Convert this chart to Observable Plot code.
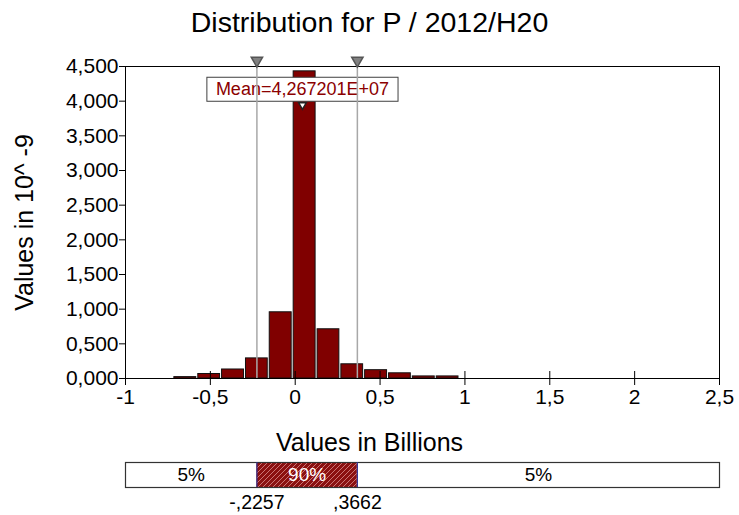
<!DOCTYPE html>
<html><head><meta charset="utf-8">
<script src="https://cdn.jsdelivr.net/npm/d3@7"></script>
<script src="https://cdn.jsdelivr.net/npm/@observablehq/plot@0.6"></script>
<style>
body{margin:0;background:#fff;font-family:"Liberation Sans",Arial,sans-serif;}
#wrap{width:739px;height:515px;overflow:hidden;position:relative;}
.t{width:739px;text-align:center;color:#000;}
svg{display:block;}
</style></head><body><div id="wrap"></div>
<script>
const title = "Distribution for P / 2012/H20";
const yLabel = "Values in 10^ -9";
const xLabel = "Values in Billions";
const binEdges = [-0.718,-0.577,-0.437,-0.296,-0.156,-0.015,0.126,0.266,0.406,0.547,0.687,0.828,0.968];
const binHeights = [0.020,0.065,0.130,0.290,0.955,4.430,0.710,0.205,0.120,0.075,0.030,0.030];
const xTicks = [-1,-0.5,0,0.5,1,1.5,2,2.5];
const yTicks = [0,0.5,1,1.5,2,2.5,3,3.5,4,4.5];
const xDomain = [-1, 2.5];
const yDomain = [0, 4.5];
const meanValue = 0.04267201;
const meanText = "Mean=4,267201E+07";
const p5 = -0.2257, p95 = 0.3662;
const pctLabels = ["5%","90%","5%"];
const pctValueLabels = ["-,2257", ",3662"];

const FONT = "'Liberation Sans', Arial, sans-serif";
const wrap = document.getElementById("wrap");

const tdiv = document.createElement("div");
tdiv.className = "t";
tdiv.style.cssText = "height:45px;line-height:45px;font-size:28.5px;";
tdiv.textContent = title;
wrap.appendChild(tdiv);

const bins = binHeights.map((h, i) => ({x1: binEdges[i], x2: binEdges[i + 1], y: h}));
const comma = s => s.replace(".", ",");
const fmtX = d => comma(String(d));
const fmtY = d => comma(d.toFixed(3));

const plot1 = Plot.plot({
  width: 739, height: 375,
  marginTop: 21, marginBottom: 42, marginLeft: 125, marginRight: 20,
  style: {fontFamily: FONT, fontSize: "21px", color: "#000", background: "white", overflow: "visible"},
  x: {domain: xDomain},
  y: {domain: yDomain},
  marks: [
    Plot.rectY(bins, {x1: "x1", x2: "x2", y: "y", fill: "#800000", stroke: "#111", strokeWidth: 1, insetLeft: 1, insetRight: 1}),
    Plot.frame({stroke: "#000"}),
    Plot.axisY({ticks: yTicks, tickFormat: fmtY, tickSize: 6, tickPadding: 1, label: yLabel, labelAnchor: "center", labelArrow: "none", labelOffset: 110, fontSize: 21}),
    Plot.axisX({ticks: xTicks, tickSize: 14, dy: -7, tickFormat: () => "", label: null}),
    Plot.axisX({ticks: xTicks, tickSize: 0, tickPadding: 11, tickFormat: fmtX, label: null, fontSize: 21}),
    Plot.text([{v: meanValue, label: meanText}], {x: "v", text: "label", frameAnchor: "top", lineAnchor: "middle", dy: 23, fill: "#8b0000", fontSize: 18}),
    Plot.ruleX([p5, p95], {x: d => d, stroke: "#a8a8a8", strokeWidth: 1.5}),
    Plot.dot([p5, p95], {x: d => d, frameAnchor: "top", dy: -6, symbol: "triangle", r: 4.2, rotate: 180, fill: "#808080", stroke: "#555"}),
    Plot.dot([meanValue], {x: d => d, frameAnchor: "top", dy: 38.5, symbol: "triangle", r: 2.8, rotate: 180, fill: "white", stroke: "#222"})
  ]
});
wrap.appendChild(plot1);
plot1.querySelectorAll("g[aria-label='y-axis label'] text").forEach(t => t.setAttribute("font-size", "25"));

// box behind mean label, in the same coordinate system as the text
const mt = Array.from(plot1.querySelectorAll("text")).find(t => t.textContent === meanText);
if (mt) {
  const bb = mt.getBBox();
  const rect = document.createElementNS("http://www.w3.org/2000/svg", "rect");
  rect.setAttribute("x", bb.x - 9);
  rect.setAttribute("y", bb.y - 2);
  rect.setAttribute("width", bb.width + 18);
  rect.setAttribute("height", bb.height + 4);
  rect.setAttribute("fill", "white");
  rect.setAttribute("stroke", "#404040");
  if (mt.getAttribute("transform")) rect.setAttribute("transform", mt.getAttribute("transform"));
  mt.parentNode.insertBefore(rect, mt);
}

const xl = document.createElement("div");
xl.className = "t";
xl.style.cssText = "height:35px;line-height:35px;font-size:25px;padding-top:5px;box-sizing:border-box;";
xl.textContent = xLabel;
wrap.appendChild(xl);

const segs = [
  {a: xDomain[0], b: p5, label: pctLabels[0], c: "#000"},
  {a: p5, b: p95, label: pctLabels[1], c: "#fff"},
  {a: p95, b: xDomain[1], label: pctLabels[2], c: "#000"}
];

const plot2 = Plot.plot({
  width: 739, height: 60,
  marginTop: 7, marginBottom: 28, marginLeft: 125, marginRight: 20,
  style: {fontFamily: FONT, fontSize: "19px", color: "#000", background: "white", overflow: "visible"},
  x: {domain: xDomain, axis: null},
  marks: [
    Plot.rect([segs[1]], {x1: "a", x2: "b", fill: "#8b1010"}),
    Plot.rect([segs[1]], {x1: "a", x2: "b", fill: "url(#hatch)"}),
    Plot.frame({stroke: "#333", strokeWidth: 1.2}),
    Plot.ruleX([p5, p95], {x: d => d, stroke: "#303090", strokeWidth: 1.2}),
    Plot.text(segs, {x: d => (d.a + d.b) / 2, text: "label", frameAnchor: "middle", fill: "c", fontSize: 19}),
    Plot.text([{v: p5, t: pctValueLabels[0]}, {v: p95, t: pctValueLabels[1]}], {x: "v", text: "t", frameAnchor: "bottom", lineAnchor: "middle", dy: 15, fontSize: 19.5})
  ]
});
const ns = "http://www.w3.org/2000/svg";
const defs = document.createElementNS(ns, "defs");
defs.innerHTML = '<pattern id="hatch" patternUnits="userSpaceOnUse" width="5" height="5"><path d="M-1,1 l2,-2 M0,5 l5,-5 M4,6 l2,-2" stroke="rgba(255,200,200,0.55)" stroke-width="1"/></pattern>';
plot2.insertBefore(defs, plot2.firstChild);
wrap.appendChild(plot2);
</script></body></html>
